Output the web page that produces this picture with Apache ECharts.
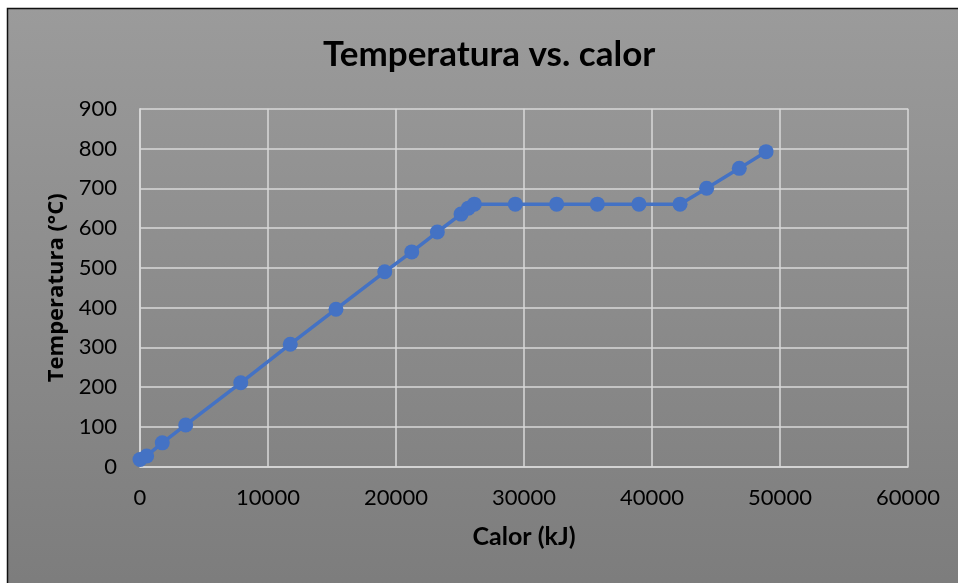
<!DOCTYPE html>
<html>
<head>
<meta charset="utf-8">
<script src="https://cdn.jsdelivr.net/npm/echarts@6/dist/echarts.min.js"></script>
<style>
html,body{margin:0;padding:0;background:#fff;}
#c{width:958px;height:583px;}
</style>
</head>
<body>
<div id="c"></div>
<script>
const calorKJ = [0, 520, 1740, 3570, 7870, 11740, 15310, 19120, 21230, 23230, 25080, 25650, 26120, 29320, 32550, 35730, 38980, 42190, 44270, 46820, 48910];
const temperaturaC = [18, 27, 60, 105, 211, 308, 396, 490, 540, 590, 635, 650, 660, 660, 660, 660, 660, 660, 700, 750, 792];
const chartTitle = 'Temperatura vs. calor';
const xTitle = 'Calor (kJ)';
const yTitle = 'Temperatura (°C)';

const points = calorKJ.map((x, i) => [x, temperaturaC[i]]);

const chart = echarts.init(document.getElementById('c'), null, {renderer: 'canvas'});
chart.setOption({
  backgroundColor: '#ffffff',
  animation: false,
  graphic: [{
    type: 'rect',
    z: -10,
    silent: true,
    shape: {x: 7.5, y: 8.5, width: 960, height: 590},
    style: {
      fill: new echarts.graphic.LinearGradient(0, 0, 0, 1, [
        {offset: 0, color: '#9b9b9b'},
        {offset: 1, color: '#7c7c7c'}
      ]),
      stroke: '#111',
      lineWidth: 1.5
    }
  }],
  title: {
    text: chartTitle,
    left: 318,
    top: 32,
    textStyle: {fontFamily: 'Lato', fontWeight: 'bold', fontSize: 35, color: '#000'}
  },
  grid: {left: 140, top: 108.7, right: 50, bottom: 116.3, containLabel: false},
  xAxis: {
    type: 'value',
    min: 0, max: 60000, interval: 10000,
    name: xTitle,
    nameLocation: 'middle',
    nameGap: 58,
    nameTextStyle: {fontFamily: 'Lato', fontWeight: 'bold', fontSize: 25, color: '#000'},
    axisLine: {show: true, lineStyle: {color: '#d9d9d9', width: 1.5}},
    axisTick: {show: false},
    axisLabel: {fontFamily: 'Lato', fontSize: 22, color: '#000', margin: 20, formatter: v => String(v)},
    splitLine: {show: true, lineStyle: {color: '#d9d9d9', width: 1.5}}
  },
  yAxis: {
    type: 'value',
    min: 0, max: 900, interval: 100,
    name: yTitle,
    nameLocation: 'middle',
    nameGap: 68,
    nameRotate: 90,
    nameTextStyle: {fontFamily: 'Open Sans', fontWeight: 'bold', fontSize: 22, color: '#000'},
    axisLine: {show: true, lineStyle: {color: '#d9d9d9', width: 1.5}},
    axisTick: {show: false},
    axisLabel: {fontFamily: 'Lato', fontSize: 22, color: '#000', margin: 23, formatter: v => String(v)},
    splitLine: {show: true, lineStyle: {color: '#d9d9d9', width: 1.5}}
  },
  series: [{
    type: 'line',
    data: points,
    symbol: 'circle',
    symbolSize: 15,
    lineStyle: {color: '#4472c4', width: 3.5},
    itemStyle: {color: '#4472c4'},
    z: 5
  }]
});
</script>
</body>
</html>
